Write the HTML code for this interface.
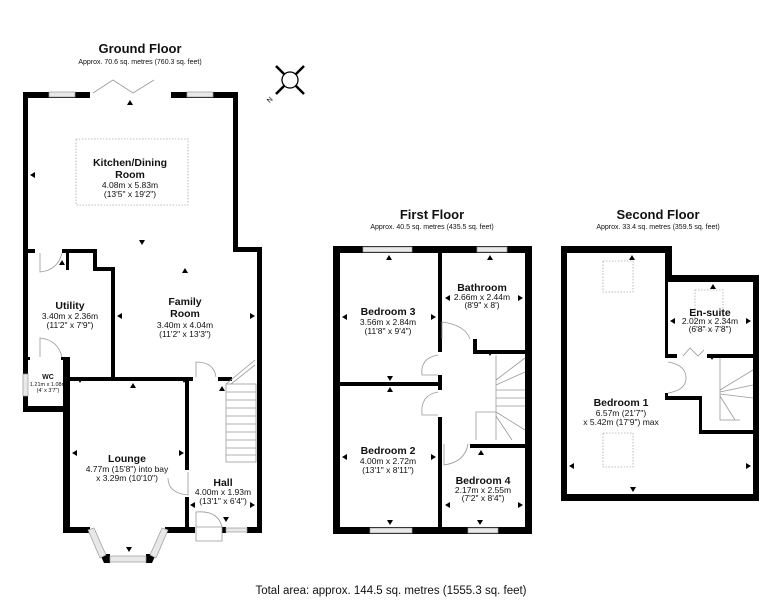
<!DOCTYPE html>
<html><head><meta charset="utf-8"><style>
html,body{margin:0;padding:0;background:#fff;width:782px;height:600px;overflow:hidden}
svg{display:block}
text{font-family:"Liberation Sans",Arial,sans-serif;text-anchor:middle;fill:#111}
.t{font-size:13px;font-weight:bold}
.s{font-size:7px}
.n{font-size:10.5px;font-weight:bold}
.d{font-size:8.5px}
.w{fill:#000}
.win{fill:#e8e8e8;stroke:#999;stroke-width:0.7}
.dash{fill:none;stroke:#aaa;stroke-width:0.8;stroke-dasharray:1.5 1.5}
.thin{fill:none;stroke:#999;stroke-width:0.8}
</style></head><body>
<svg width="782" height="600" viewBox="0 0 782 600" xmlns="http://www.w3.org/2000/svg">
<!-- titles -->
<text x="140" y="53" class="t">Ground Floor</text>
<text x="140" y="64" class="s">Approx. 70.6 sq. metres (760.3 sq. feet)</text>
<text x="432" y="219" class="t">First Floor</text>
<text x="432" y="229" class="s">Approx. 40.5 sq. metres (435.5 sq. feet)</text>
<text x="658" y="219" class="t">Second Floor</text>
<text x="658" y="229" class="s">Approx. 33.4 sq. metres (359.5 sq. feet)</text>
<text x="391" y="594" style="font-size:11.5px">Total area: approx. 144.5 sq. metres (1555.3 sq. feet)</text>

<!-- compass -->
<g stroke="#000" fill="none">
<circle cx="290" cy="80" r="8" stroke-width="1.3"/>
<path d="M284 74 L276 66 M296 74 L304 66 M284 86 L276 94 M296 86 L304 94" stroke-width="2.5"/>
</g>
<text x="270" y="102" style="font-size:7px" transform="rotate(-45 270 100)">N</text>

<!-- GROUND FLOOR walls -->
<g class="w">
<rect x="23" y="92" width="67" height="6"/>
<rect x="171" y="92" width="67" height="6"/>
<rect x="23" y="92" width="5" height="320"/>
<rect x="233" y="92" width="5" height="160"/>
<rect x="233" y="247" width="29" height="5"/>
<rect x="257" y="247" width="5" height="286"/>
<rect x="23" y="249" width="12" height="4"/>
<rect x="62" y="249" width="35" height="4"/>
<rect x="66" y="249" width="3" height="21"/>
<rect x="93" y="249" width="4" height="22"/>
<rect x="93" y="267" width="22" height="4"/>
<rect x="111" y="267" width="4" height="112"/>
<rect x="23" y="357" width="7" height="3"/>
<rect x="61" y="357" width="9" height="3"/>
<rect x="23" y="406" width="47" height="6"/>
<rect x="63" y="357" width="7" height="176"/>
<rect x="63" y="377" width="130" height="4"/>
<rect x="218" y="377" width="14" height="4"/>
<rect x="185" y="377" width="4" height="93"/>
<rect x="185" y="497" width="4" height="36"/>
<rect x="63" y="527" width="27" height="6"/>
<rect x="165" y="527" width="30" height="6"/>
<rect x="222" y="527" width="4" height="6"/>
<rect x="247" y="527" width="15" height="6"/>
<polygon points="100,554 110,554 110,563 104,563"/>
<polygon points="146,554 156,554 152,563 146,563"/>
</g>
<rect x="49" y="92" width="26" height="5" class="win"/>
<rect x="187" y="92" width="26" height="5" class="win"/>
<rect x="23" y="374" width="5" height="22" class="win"/>
<rect x="110" y="556" width="36" height="6" class="win"/>
<polygon points="88,530 94,528 106,555 100,558" class="win"/>
<polygon points="168,530 162,528 150,555 156,558" class="win"/>
<rect x="226" y="528" width="21" height="4" class="win"/>
<!-- bifold -->
<path d="M93 93 L113 80 L133 93 L154 80" class="thin"/>
<!-- doors -->
<path d="M40 253 L40 272 Q58 270 62 253" class="thin"/>
<path d="M40 357 L40 338 Q58 340 62 357" class="thin"/>
<path d="M196 377 L196 362 Q214 362 216 377" class="thin"/>
<path d="M188 472 L188 495 Q168 493 168 478" class="thin"/>
<path d="M196 527 L196 512 Q218 510 222 527 Z M196 527 L196 541 L222 541 L222 527" class="thin"/>
<!-- stairs -->
<g class="thin">
<rect x="226" y="384" width="30" height="78"/>
<path d="M226 392h30M226 400h30M226 408h30M226 416h30M226 424h30M226 432h30M226 440h30M226 448h30M226 455h30"/>
<path d="M226 384 L255 360 M231 384 L255 365"/>
</g>
<rect x="76" y="139" width="112" height="66" class="dash"/>

<text x="130" y="166" class="n">Kitchen/Dining</text>
<text x="130" y="178" class="n">Room</text>
<text x="130" y="188" class="d">4.08m x 5.83m</text>
<text x="130" y="197" class="d">(13'5" x 19'2")</text>
<text x="70" y="309" class="n">Utility</text>
<text x="70" y="319" class="d">3.40m x 2.36m</text>
<text x="70" y="328" class="d">(11'2" x 7'9")</text>
<text x="185" y="305" class="n">Family</text>
<text x="185" y="317" class="n">Room</text>
<text x="185" y="328" class="d">3.40m x 4.04m</text>
<text x="185" y="337" class="d">(11'2" x 13'3")</text>
<text x="48" y="379" style="font-size:7px;font-weight:bold">WC</text>
<text x="48" y="386" style="font-size:5.5px">1.21m x 1.08m</text>
<text x="48" y="392" style="font-size:5.5px">(4' x 3'7")</text>
<text x="127" y="462" class="n">Lounge</text>
<text x="127" y="472" class="d">4.77m (15'8") into bay</text>
<text x="127" y="481" class="d">x 3.29m (10'10")</text>
<text x="223" y="486" class="n">Hall</text>
<text x="223" y="495" class="d">4.00m x 1.93m</text>
<text x="223" y="504" class="d">(13'1" x 6'4")</text>

<!-- arrows ground -->
<g class="w">
<path d="M130 100l-3 5h6z M30 175l5-3v6z M238 175l-5-3v6z M142 245l-3-5h6z M185 268l-3 5h6z M117 316l5-3v6z M255 316l-5-3v6z M62 260l-3 5h6z M80 383l-3-5h6z M133 383l-3 5h6z M184 383l-3-5h6z M72 453l5-3v6z M184 453l-5-3v6z M190 505l5-3v6z M255 505l-5-3v6z M226 522l-3-5h6z M129 552l-3-5h6z M222 386l-3 5h6z"/>
</g>

<!-- FIRST FLOOR -->
<g class="w">
<rect x="333" y="246" width="199" height="7"/>
<rect x="333" y="246" width="7" height="288"/>
<rect x="525" y="246" width="7" height="288"/>
<rect x="333" y="527" width="199" height="7"/>
<rect x="438" y="246" width="4" height="106"/>
<rect x="333" y="382" width="109" height="4"/>
<rect x="438" y="375" width="4" height="15"/>
<rect x="438" y="417" width="4" height="117"/>
<rect x="473" y="339" width="4" height="15"/>
<rect x="473" y="350" width="52" height="4"/>
<rect x="470" y="444" width="55" height="4"/>
</g>
<rect x="363" y="247" width="49" height="5" class="win"/>
<rect x="477" y="247" width="30" height="5" class="win"/>
<rect x="370" y="528" width="42" height="5" class="win"/>
<rect x="468" y="528" width="30" height="5" class="win"/>
<g class="thin">
<path d="M442 339 L442 322 Q465 325 470 339"/>
<path d="M438 355 Q420 358 422 375 L438 375"/>
<path d="M438 392 Q420 395 422 415 L438 415"/>
<path d="M444 444 L444 465 Q465 462 468 444"/>
<path d="M496 355 L496 440 M496 380 L525 358 M496 385 L525 372 M496 390 L525 390 M496 398 L525 398 M496 406 L525 406 M496 412 L525 430 M496 416 L512 440 M476 412 L496 412 L476 412 L476 440"/>
</g>
<text x="388" y="315" class="n">Bedroom 3</text>
<text x="388" y="325" class="d">3.56m x 2.84m</text>
<text x="388" y="334" class="d">(11'8" x 9'4")</text>
<text x="482" y="291" class="n">Bathroom</text>
<text x="482" y="300" class="d">2.66m x 2.44m</text>
<text x="482" y="308" class="d">(8'9" x 8')</text>
<text x="388" y="454" class="n">Bedroom 2</text>
<text x="388" y="464" class="d">4.00m x 2.72m</text>
<text x="388" y="473" class="d">(13'1" x 8'11")</text>
<text x="483" y="484" class="n">Bedroom 4</text>
<text x="483" y="493" class="d">2.17m x 2.55m</text>
<text x="483" y="501" class="d">(7'2" x 8'4")</text>
<g class="w">
<path d="M389 255l-3 5h6z M490 255l-3 5h6z M342 317l5-3v6z M436 317l-5-3v6z M445 298l5-3v6z M523 298l-5-3v6z M390 381l-3-5h6z M390 387l-3 5h6z M490 356l-3-5h6z M342 457l5-3v6z M436 457l-5-3v6z M390 525l-3-5h6z M480 525l-3-5h6z M481 450l-3 5h6z M445 505l5-3v6z M523 505l-5-3v6z"/>
</g>

<!-- SECOND FLOOR -->
<g class="w">
<rect x="561" y="246" width="111" height="7"/>
<rect x="665" y="246" width="7" height="36"/>
<rect x="665" y="275" width="94" height="7"/>
<rect x="753" y="275" width="6" height="226"/>
<rect x="561" y="246" width="6" height="255"/>
<rect x="561" y="494" width="198" height="7"/>
<rect x="665" y="282" width="3" height="75"/>
<rect x="665" y="354" width="12" height="4"/>
<rect x="707" y="354" width="52" height="4"/>
<rect x="665" y="393" width="3" height="7"/>
<rect x="665" y="396" width="37" height="4"/>
<rect x="699" y="396" width="3" height="38"/>
<rect x="699" y="430" width="60" height="4"/>
</g>
<rect x="603" y="261" width="30" height="31" class="dash"/>
<rect x="603" y="433" width="30" height="34" class="dash"/>
<rect x="695" y="290" width="28" height="40" class="dash"/>
<g class="thin">
<path d="M683 356 L690 348 L698 356 L704 350"/>
<path d="M668 362 Q686 365 686 378 Q686 390 668 393"/>
<path d="M720 358 L720 420 L740 420 M720 390 L753 370 M720 392 L753 385 M720 394 L753 398 M720 396 L735 420"/>
</g>
<text x="621" y="406" class="n">Bedroom 1</text>
<text x="621" y="416" class="d">6.57m (21'7")</text>
<text x="621" y="425" class="d">x 5.42m (17'9") max</text>
<text x="710" y="316" class="n">En-suite</text>
<text x="710" y="324" class="d">2.02m x 2.34m</text>
<text x="710" y="332" class="d">(6'8" x 7'8")</text>
<g class="w">
<path d="M632 255l-3 5h6z M713 284l-3 5h6z M670 321l5-3v6z M751 321l-5-3v6z M712 360l-3-5h6z M569 466l5-3v6z M751 466l-5-3v6z M633 492l-3-5h6z"/>
</g>
</svg>
</body></html>
